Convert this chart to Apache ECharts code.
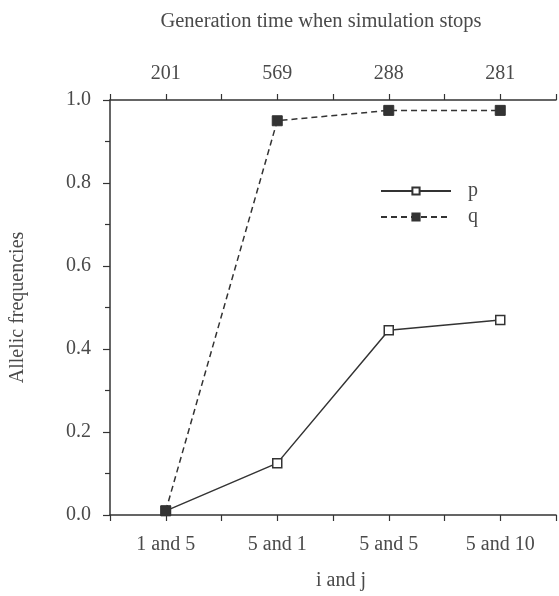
<!DOCTYPE html>
<html><head><meta charset="utf-8">
<script src="https://cdn.jsdelivr.net/npm/echarts@6/dist/echarts.min.js"></script>
<style>html,body{margin:0;padding:0;background:#fff}#c{width:559px;height:596px}</style>
</head><body><div id="c"></div>
<script>
var categories = ['1 and 5', '5 and 1', '5 and 5', '5 and 10'];
var generationLabels = ['201', '569', '288', '281'];
var pValues = [0.01, 0.125, 0.445, 0.47];
var qValues = [0.01, 0.95, 0.975, 0.975];

var FONT = 'Liberation Serif';
var INK = '#333';
var TXT = '#4a4a4a';
function toPairs(vals){ return vals.map(function(v,i){ return [i+1, v]; }); }
function catLabel(arr){ return function(v){ var i = Math.round(v)-1; return (Math.abs(v-Math.round(v))<1e-6 && arr[i]!==undefined) ? arr[i] : ''; }; }

var chart = echarts.init(document.getElementById('c'));
var axisCommon = {
  type:'value', min:0.5, max:4.5, interval:0.5,
  axisLine:{show:true, lineStyle:{color:INK, width:1.5}},
  axisTick:{show:true, inside:false, length:6, lineStyle:{color:INK, width:1.2}},
  splitLine:{show:false},
  nameLocation:'middle'
};
chart.setOption({
  animation:false,
  grid:{left:108, right:3, top:100, bottom:79, containLabel:false},
  legend:{
    left:375, top:176, orient:'vertical', itemWidth:70, itemHeight:9, itemGap:6,
    textStyle:{fontFamily:FONT, fontSize:20, color:TXT, padding:[3,0,0,12]},
    data:['p','q']
  },
  xAxis:[
    Object.assign({}, axisCommon, {
      position:'bottom', name:'i and j', nameGap:56,
      nameTextStyle:{fontFamily:FONT, fontSize:20, color:TXT, padding:[0,0,0,16]},
      axisLabel:{fontFamily:FONT, fontSize:20, color:TXT, margin:20, formatter:catLabel(categories), showMinLabel:true, showMaxLabel:true}
    }),
    Object.assign({}, axisCommon, {
      position:'top', name:'Generation time when simulation stops', nameGap:68,
      nameTextStyle:{fontFamily:FONT, fontSize:20.5, color:TXT, padding:[0,24,0,0]},
      axisLabel:{fontFamily:FONT, fontSize:20, color:TXT, margin:16, formatter:catLabel(generationLabels), showMinLabel:true, showMaxLabel:true}
    })
  ],
  yAxis:{
    type:'value', min:0, max:1, interval:0.2,
    name:'Allelic frequencies', nameLocation:'middle', nameGap:82,
    nameTextStyle:{fontFamily:FONT, fontSize:20, color:TXT},
    axisLine:{show:true, lineStyle:{color:INK, width:1.5}},
    axisTick:{show:true, length:7, lineStyle:{color:INK, width:1.2}},
    minorTick:{show:true, splitNumber:2, length:5, lineStyle:{color:INK, width:1.2}},
    splitLine:{show:false},
    axisLabel:{fontFamily:FONT, fontSize:20, color:TXT, margin:19, formatter:function(v){ return v.toFixed(1); }}
  },
  series:[
    {name:'p', type:'line', data:toPairs(pValues), symbol:'rect', symbolSize:9,
     lineStyle:{color:INK, width:1.5, type:'solid'},
     itemStyle:{color:'#fff', borderColor:INK, borderWidth:1.5}},
    {name:'q', type:'line', data:toPairs(qValues), symbol:'rect', symbolSize:10,
     lineStyle:{color:INK, width:1.5, type:[6,4]},
     itemStyle:{color:INK, borderColor:INK, borderWidth:1}}
  ]
});
</script></body></html>
